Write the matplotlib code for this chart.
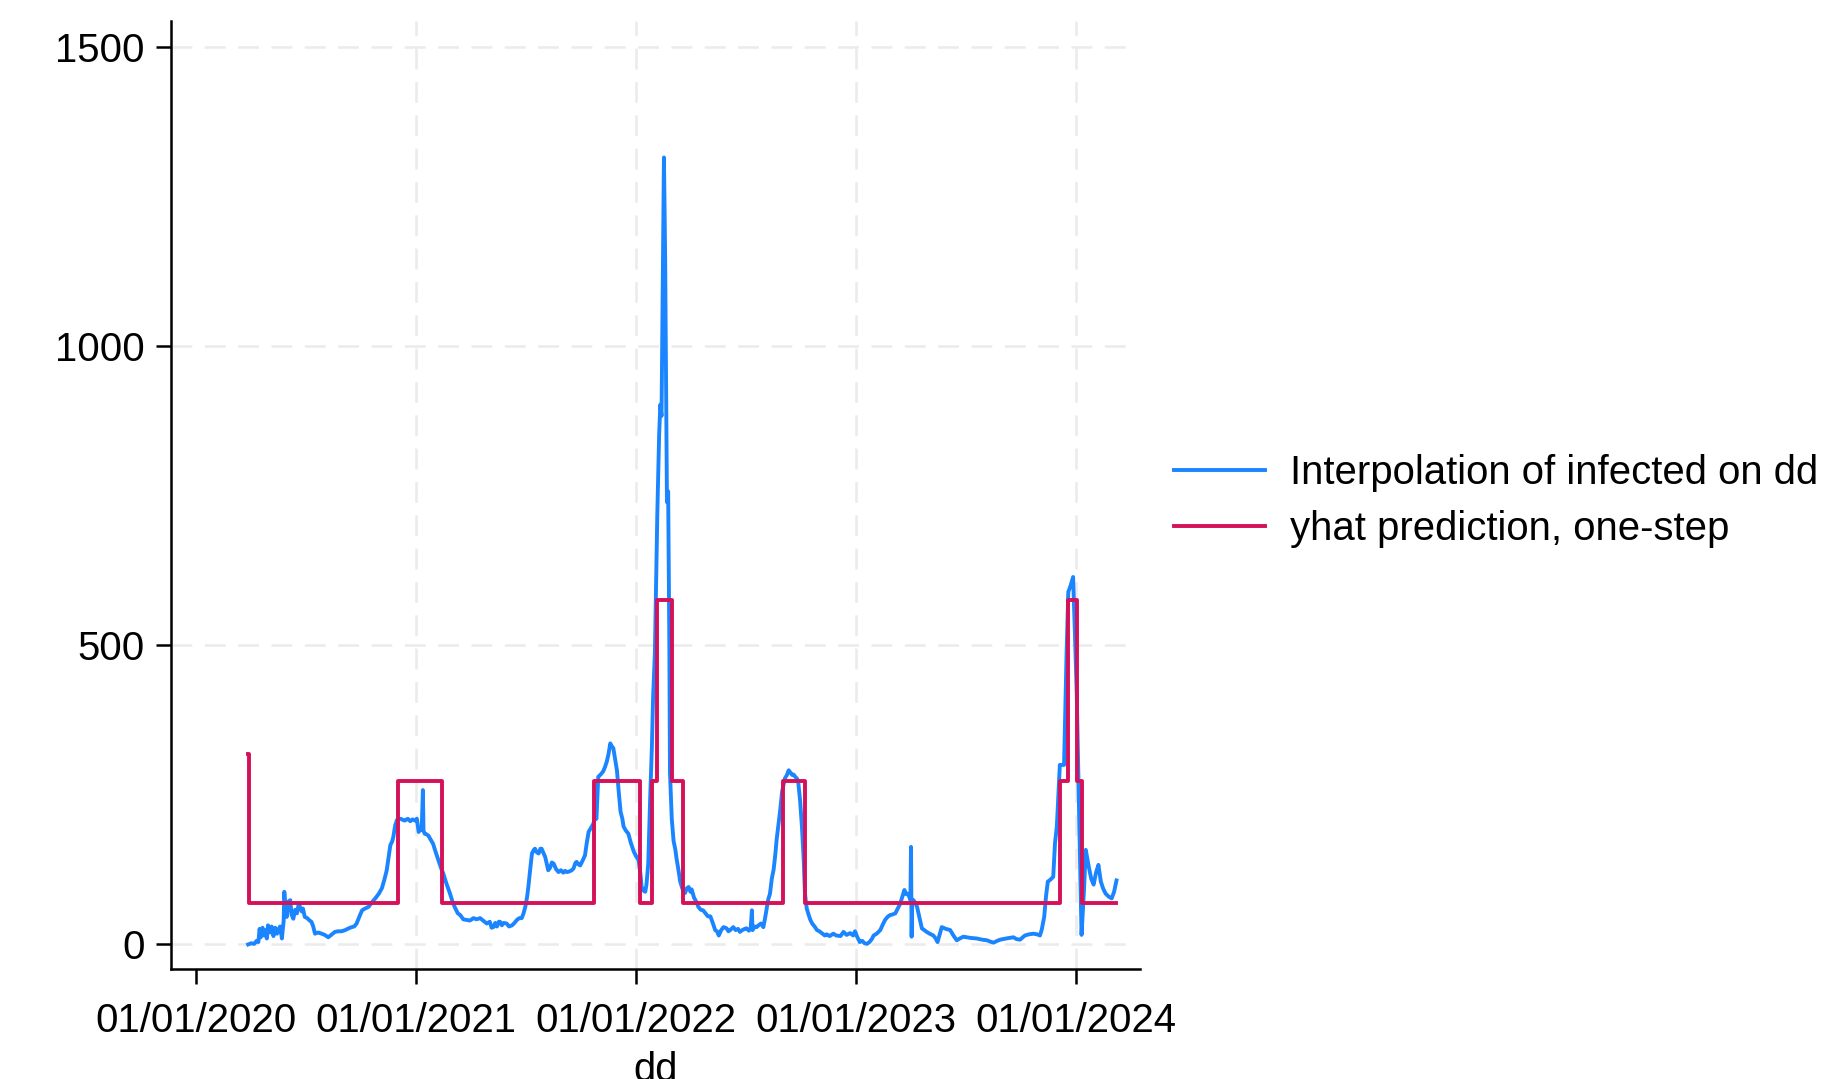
import numpy as np
import pandas as pd
import matplotlib
matplotlib.use("Agg")
import matplotlib.pyplot as plt
from matplotlib.lines import Line2D

plt.rcParams['font.family'] = ['Liberation Sans', 'DejaVu Sans']
plt.rcParams['lines.scale_dashes'] = False

# ---------------- data ----------------
base_date = "2020-01-01"

# Interpolation of infected on dd (days since 2020-01-01, value)
blue_days = [87, 92, 97, 101, 104, 106, 108, 111, 113, 115, 118, 120, 123, 126, 129, 132, 135, 137,
             140, 143, 146, 147, 149, 151, 154, 157, 159, 162, 165, 168, 171, 173, 176, 178, 181, 185,
             189, 192, 195, 198, 203, 209, 214, 220, 225, 231, 236, 242, 248, 254, 259, 263, 267, 271,
             276, 281, 287, 292, 298, 304, 309, 313, 317, 320, 323, 326, 328, 331, 334, 336, 340, 344,
             347, 352, 356, 360, 364, 367, 370, 373, 375, 377, 378, 380, 383, 386, 390, 394, 398, 403,
             407, 411, 416, 422, 426, 430, 435, 439, 444, 450, 455, 461, 466, 472, 477, 483, 488, 491,
             494, 497, 500, 503, 505, 508, 511, 516, 520, 525, 529, 533, 537, 541, 544, 547, 550, 552,
             555, 558, 561, 563, 566, 569, 572, 574, 577, 580, 583, 585, 588, 591, 594, 598, 602, 606,
             610, 613, 616, 620, 624, 627, 630, 632, 635, 638, 642, 646, 649, 652, 656, 660, 663, 665,
             668, 672, 676, 679, 682, 685, 688, 690, 693, 696, 699, 702, 705, 708, 710, 714, 718, 722,
             727, 731, 735, 738, 740, 743, 746, 748, 751, 754, 757, 759, 762, 764, 766, 769, 771, 773,
             775, 777, 779, 781, 782, 784, 786, 787, 790, 793, 796, 798, 801, 804, 808, 812, 815, 818,
             821, 823, 827, 831, 834, 838, 842, 846, 850, 854, 858, 862, 865, 868, 872, 876, 881, 884,
             887, 892, 896, 900, 903, 907, 911, 914, 918, 921, 923, 924, 928, 931, 934, 938, 942, 945,
             948, 950, 953, 956, 959, 962, 964, 967, 970, 973, 975, 978, 981, 984, 987, 990, 992, 995,
             998, 1000, 1003, 1006, 1009, 1011, 1014, 1017, 1020, 1023, 1027, 1031, 1035, 1040, 1044,
             1047, 1052, 1058, 1063, 1070, 1075, 1080, 1086, 1091, 1094, 1098, 1102, 1106, 1110, 1114,
             1118, 1122, 1125, 1130, 1136, 1140, 1144, 1148, 1152, 1156, 1161, 1165, 1169, 1172, 1176,
             1179, 1181, 1184, 1186, 1187, 1188, 1189, 1191, 1194, 1197, 1201, 1205, 1209, 1213, 1218,
             1224, 1228, 1231, 1238, 1245, 1252, 1258, 1263, 1268, 1274, 1285, 1296, 1305, 1313, 1318,
             1324, 1330, 1335, 1345, 1357, 1362, 1368, 1376, 1383, 1390, 1396, 1401, 1404, 1408, 1411,
             1414, 1418, 1423, 1426, 1429, 1432, 1434, 1438, 1441, 1445, 1448, 1452, 1456, 1459, 1462,
             1465, 1468, 1470, 1474, 1477, 1482, 1486, 1490, 1494, 1498, 1502, 1506, 1510, 1515, 1520,
             1524, 1528]
blue_vals = [0, 2, 1, 6, 4, 26, 12, 28, 15, 24, 10, 32, 20, 30, 14, 28, 18, 24,
             30, 10, 40, 88, 60, 46, 72, 74, 50, 43, 58, 52, 68, 63, 55, 60, 46, 44,
             40, 38, 30, 18, 20, 18, 16, 12, 16, 21, 22, 22, 24, 27, 29, 30, 35, 45,
             57, 60, 63, 70, 77, 85, 94, 108, 124, 145, 166, 172, 180, 199, 208, 210, 210, 208,
             207, 210, 206, 209, 207, 210, 188, 192, 191, 258, 190, 185, 184, 182, 175, 168, 155, 140,
             128, 118, 102, 85, 72, 62, 52, 49, 42, 41, 40, 44, 42, 44, 40, 35, 38, 28,
             29, 36, 30, 38, 38, 32, 36, 35, 30, 32, 36, 41, 44, 44, 52, 63, 80, 96,
             125, 152, 158, 160, 154, 152, 160, 160, 153, 146, 133, 124, 128, 137, 135, 126, 121, 124,
             120, 123, 121, 122, 124, 127, 136, 138, 134, 132, 140, 149, 170, 188, 195, 202, 213, 210,
             280, 284, 289, 296, 305, 318, 336, 332, 328, 310, 291, 255, 222, 210, 197, 190, 185, 170,
             155, 147, 141, 118, 96, 90, 88, 100, 135, 240, 330, 412, 488, 600, 719, 850, 902, 883,
             1100, 1315, 1150, 883, 739, 757, 500, 288, 210, 173, 158, 143, 125, 105, 92, 86, 94, 96,
             88, 92, 78, 71, 63, 58, 57, 52, 47, 47, 36, 24, 22, 15, 24, 29, 27, 22,
             24, 29, 24, 26, 21, 24, 26, 27, 23, 28, 57, 24, 30, 29, 32, 35, 29, 45,
             63, 75, 85, 110, 125, 152, 175, 200, 225, 255, 265, 278, 283, 291, 287, 283, 284, 280,
             277, 270, 240, 197, 140, 85, 60, 50, 41, 35, 30, 24, 22, 18, 15,
             17, 14, 18, 15, 14, 21, 16, 19, 15, 22, 12, 4, 6, 2, 1,
             4, 9, 15, 18, 24, 33, 41, 46, 49, 50, 52, 60, 68, 78, 91,
             84, 85, 80, 74, 163, 13, 72, 74, 70, 63, 45, 27, 24, 21, 18,
             15, 10, 4, 29, 26, 24, 14, 7, 10, 13, 11, 10, 8, 7, 5,
             3, 6, 8, 10, 12, 9, 8, 15, 17, 18, 17, 15, 25, 46, 80,
             105, 108, 113, 170, 197, 260, 300, 300, 300, 480, 589, 600, 614, 520, 419,
             269, 120, 16, 90, 158, 130, 110, 100, 120, 133, 105, 93, 85, 80, 77,
             88, 107]

# yhat prediction, one-step (step changes: day, level)
red_days = [87, 88, 336, 408, 661, 737, 757, 765, 790, 808, 975, 1011, 1435, 1448, 1462, 1470, 1528]
red_vals = [318, 69, 273, 69, 273, 69, 273, 576, 273, 69, 273, 69, 273, 576, 273, 69, 69]

x_tick_dates = ["2020-01-01", "2021-01-01", "2022-01-01", "2023-01-01", "2024-01-01"]
x_tick_labels = ["01/01/2020", "01/01/2021", "01/01/2022", "01/01/2023", "01/01/2024"]
y_ticks = [0, 500, 1000, 1500]

series_labels = ["Interpolation of infected on dd", "yhat prediction, one-step"]

# ---------------- plot ----------------
BLUE = "#1a85ff"
RED = "#d41159"
FS = 28.9
LW = 2.8

b0 = pd.Timestamp(base_date)
bx = b0 + pd.to_timedelta(blue_days, unit="D")
rx = b0 + pd.to_timedelta(red_days, unit="D")
xt = pd.to_datetime(x_tick_dates)

fig = plt.figure(figsize=(18.26, 10.79), dpi=100)
ax = fig.add_axes([171 / 1826, 110 / 1079, (1140 - 171) / 1826, (1058 - 110) / 1079])

ax.set_xlim(b0 - pd.Timedelta(days=41), b0 + pd.Timedelta(days=1567))
ax.set_ylim(-41, 1543)

grid_kw = dict(color="#ebebeb", linewidth=1.8, linestyle=(0, (15, 9)), zorder=0)
for t in xt[1:]:
    ax.axvline(t, **grid_kw)
for yv in y_ticks:
    ax.axhline(yv, xmin=0, xmax=0.993, **grid_kw)

ax.plot(bx, blue_vals, color=BLUE, linewidth=LW, solid_joinstyle="round",
        label=series_labels[0], zorder=3)
ax.plot(rx, red_vals, color=RED, linewidth=LW, drawstyle="steps-post",
        solid_joinstyle="round", label=series_labels[1], zorder=4)

ax.set_xticks(xt)
ax.set_xticklabels(x_tick_labels)
ax.set_yticks(y_ticks)
ax.set_yticklabels([str(v) for v in y_ticks])
ax.tick_params(axis="both", labelsize=FS, length=11, width=1.8, color="black", direction="out")
ax.tick_params(axis="x", pad=12.5)
ax.tick_params(axis="y", pad=8)

for s in ["top", "right"]:
    ax.spines[s].set_visible(False)
for s in ["left", "bottom"]:
    ax.spines[s].set_linewidth(1.8)

ax.set_xlabel("dd", fontsize=FS, labelpad=8)

handles = [Line2D([], [], color=BLUE, linewidth=LW), Line2D([], [], color=RED, linewidth=LW)]
fig.legend(handles, series_labels, loc="upper left", bbox_to_anchor=(1174 / 1826, (1079 - 454) / 1079),
           frameon=False, fontsize=FS, handlelength=2.27, handletextpad=0.62,
           labelspacing=0.46, borderpad=0, borderaxespad=0)

fig.savefig("out.png", dpi=100)
